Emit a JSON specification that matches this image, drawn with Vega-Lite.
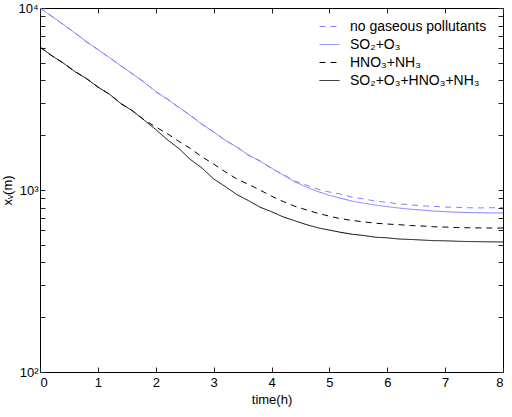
{
  "$schema": "https://vega.github.io/schema/vega-lite/v6.json",
  "width": 463,
  "height": 364,
  "autosize": {"type": "none"},
  "padding": {"left": 40, "top": 8, "right": 9, "bottom": 45},
  "background": "white",
  "config": {
    "font": "Liberation Sans",
    "view": {"stroke": "black", "strokeWidth": 1},
    "axis": {"grid": false, "domain": false, "offset": -5, "tickColor": "#222222", "tickWidth": 1, "labelColor": "black", "titleColor": "black", "labelFontSize": 13, "titleFontSize": 13, "titleFontWeight": "normal", "tickSize": 5}
  },
  "data": {"values": [
    {"t":0,"none":10000,"so2o3":10000,"hno3nh3":6100,"all":6100},
    {"t":0.2,"none":9050,"so2o3":9000,"hno3nh3":5480,"all":5480},
    {"t":0.4,"none":8100,"so2o3":8150,"hno3nh3":4990,"all":4990},
    {"t":0.6,"none":7350,"so2o3":7300,"hno3nh3":4480,"all":4480},
    {"t":0.8,"none":6500,"so2o3":6550,"hno3nh3":4100,"all":4100},
    {"t":1.0,"none":5920,"so2o3":5900,"hno3nh3":3680,"all":3680},
    {"t":1.2,"none":5320,"so2o3":5350,"hno3nh3":3360,"all":3360},
    {"t":1.4,"none":4820,"so2o3":4800,"hno3nh3":2980,"all":2980},
    {"t":1.6,"none":4330,"so2o3":4350,"hno3nh3":2720,"all":2720},
    {"t":1.8,"none":3930,"so2o3":3900,"hno3nh3":2430,"all":2420},
    {"t":2.0,"none":3460,"so2o3":3480,"hno3nh3":2220,"all":2150},
    {"t":2.2,"none":3170,"so2o3":3150,"hno3nh3":2040,"all":1890},
    {"t":2.4,"none":2830,"so2o3":2850,"hno3nh3":1850,"all":1690},
    {"t":2.6,"none":2580,"so2o3":2560,"hno3nh3":1690,"all":1470},
    {"t":2.8,"none":2290,"so2o3":2300,"hno3nh3":1520,"all":1320},
    {"t":3.0,"none":2090,"so2o3":2080,"hno3nh3":1390,"all":1150},
    {"t":3.2,"none":1870,"so2o3":1880,"hno3nh3":1260,"all":1045},
    {"t":3.4,"none":1730,"so2o3":1720,"hno3nh3":1150,"all":945},
    {"t":3.6,"none":1550,"so2o3":1560,"hno3nh3":1075,"all":875},
    {"t":3.8,"none":1450,"so2o3":1440,"hno3nh3":1000,"all":805},
    {"t":4.0,"none":1310,"so2o3":1320,"hno3nh3":925,"all":760},
    {"t":4.2,"none":1220,"so2o3":1210,"hno3nh3":865,"all":712},
    {"t":4.4,"none":1120,"so2o3":1110,"hno3nh3":815,"all":678},
    {"t":4.6,"none":1065,"so2o3":1040,"hno3nh3":778,"all":646},
    {"t":4.8,"none":1010,"so2o3":980,"hno3nh3":745,"all":620},
    {"t":5.0,"none":975,"so2o3":935,"hno3nh3":718,"all":602},
    {"t":5.2,"none":948,"so2o3":900,"hno3nh3":695,"all":585},
    {"t":5.4,"none":912,"so2o3":868,"hno3nh3":680,"all":571},
    {"t":5.6,"none":893,"so2o3":845,"hno3nh3":668,"all":562},
    {"t":5.8,"none":868,"so2o3":826,"hno3nh3":657,"all":550},
    {"t":6.0,"none":855,"so2o3":810,"hno3nh3":650,"all":546},
    {"t":6.2,"none":838,"so2o3":796,"hno3nh3":645,"all":538},
    {"t":6.4,"none":830,"so2o3":784,"hno3nh3":638,"all":535},
    {"t":6.6,"none":818,"so2o3":776,"hno3nh3":634,"all":531},
    {"t":6.8,"none":813,"so2o3":766,"hno3nh3":628,"all":527},
    {"t":7.0,"none":806,"so2o3":760,"hno3nh3":626,"all":526},
    {"t":7.2,"none":803,"so2o3":755,"hno3nh3":622,"all":523},
    {"t":7.4,"none":799,"so2o3":752,"hno3nh3":620,"all":521},
    {"t":7.6,"none":797,"so2o3":750,"hno3nh3":619,"all":520},
    {"t":7.8,"none":799,"so2o3":748,"hno3nh3":618,"all":519},
    {"t":8.0,"none":801,"so2o3":748,"hno3nh3":618,"all":518}
  ]},
  "transform": [
    {"fold": ["none", "so2o3", "hno3nh3", "all"], "as": ["series", "x"]}
  ],
  "layer": [
    {
      "mark": {"type": "line", "strokeWidth": 1, "clip": true},
      "encoding": {
        "x": {"field": "t", "type": "quantitative",
          "scale": {"domain": [0, 8], "nice": false, "zero": false},
          "axis": {"orient": "bottom", "title": "time(h)", "values": [0,1,2,3,4,5,6,7,8], "labelPadding": 4, "titlePadding": 4}},
        "y": {"field": "x", "type": "quantitative",
          "scale": {"type": "log", "domain": [100, 10000], "nice": false},
          "axis": {"orient": "left", "title": "xᵥ(m)", "titlePadding": 3,
            "values": [100,200,300,400,500,600,700,800,900,1000,2000,3000,4000,5000,6000,7000,8000,9000,10000],
            "labelExpr": "datum.value == 100 ? '10²' : datum.value == 1000 ? '10³' : datum.value == 10000 ? '10⁴' : ''",
            "labelPadding": 2, "labelOverlap": false, "labelBound": false, "labelFlush": false}},
        "color": {"field": "series", "type": "nominal",
          "scale": {"domain": ["none", "so2o3", "hno3nh3", "all"], "range": ["#7f7fff", "#7f7fff", "#000000", "#000000"]},
          "legend": {"orient": "none", "legendX": 279, "legendY": 8, "title": null,
            "symbolType": "stroke", "symbolSize": 400, "symbolStrokeWidth": 1, "labelFontSize": 14, "labelOffset": 10, "rowPadding": 0,
            "labelExpr": "datum.value == 'none' ? 'no gaseous pollutants' : datum.value == 'so2o3' ? 'SO₂+O₃' : datum.value == 'hno3nh3' ? 'HNO₃+NH₃' : 'SO₂+O₃+HNO₃+NH₃'"}},
        "strokeDash": {"field": "series", "type": "nominal",
          "scale": {"domain": ["none", "so2o3", "hno3nh3", "all"], "range": [[6,5],[1,0],[6,5],[1,0]]},
          "legend": {"orient": "none", "legendX": 279, "legendY": 8, "title": null,
            "symbolType": "stroke", "symbolSize": 400, "symbolStrokeWidth": 1, "labelFontSize": 14, "labelOffset": 10, "rowPadding": 0,
            "labelExpr": "datum.value == 'none' ? 'no gaseous pollutants' : datum.value == 'so2o3' ? 'SO₂+O₃' : datum.value == 'hno3nh3' ? 'HNO₃+NH₃' : 'SO₂+O₃+HNO₃+NH₃'"}}
      }
    },
    {
      "mark": {"type": "point", "opacity": 0},
      "encoding": {
        "x": {"field": "t", "type": "quantitative",
          "scale": {"domain": [0, 8], "nice": false, "zero": false},
          "axis": {"orient": "top", "title": null, "labels": false, "values": [0,1,2,3,4,5,6,7,8]}},
        "y": {"field": "x", "type": "quantitative",
          "scale": {"type": "log", "domain": [100, 10000], "nice": false},
          "axis": {"orient": "right", "title": null, "labels": false,
            "values": [100,200,300,400,500,600,700,800,900,1000,2000,3000,4000,5000,6000,7000,8000,9000,10000]}}
      }
    }
  ],
  "resolve": {"scale": {"x": "independent", "y": "independent"}, "axis": {"x": "independent", "y": "independent"}}
}
